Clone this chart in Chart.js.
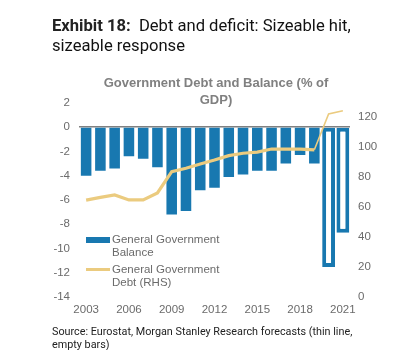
<!DOCTYPE html>
<html>
<head>
<meta charset="utf-8">
<script src="https://cdn.jsdelivr.net/npm/chart.js@4"></script>
<style>
  body { margin:0; background:#fff; width:395px; height:350px; position:relative; overflow:hidden; }
  #chartWrap { position:absolute; left:0; top:0; width:395px; height:350px; }
  .header { position:absolute; left:52px; top:16px; font:16.6px Roboto, sans-serif; line-height:20px; color:#111; white-space:nowrap; }
  .header b { font-weight:700; color:#222; }
  .chart-title { position:absolute; left:96px; width:240px; top:74px; text-align:center; font:bold 13px "Liberation Sans", Arial, sans-serif; line-height:17px; color:#808080; }
  .legend { position:absolute; left:86px; font:11.5px "Liberation Sans", Arial, sans-serif; line-height:13px; color:#6b6b6b; }
  .legend .txt { position:absolute; left:26px; top:0; white-space:nowrap; }
  .legend .sw { position:absolute; left:0; width:24px; }
  .source { position:absolute; left:52px; top:325px; font:10.8px Roboto, sans-serif; line-height:13px; color:#222; }
</style>
</head>
<body>
<div id="chartWrap"><canvas id="debtChart" width="395" height="350"></canvas></div>
<div class="header"><b>Exhibit 18:</b>&nbsp; Debt and deficit: Sizeable hit,<br>sizeable response</div>
<div class="chart-title">Government Debt and Balance (% of<br>GDP)</div>
<div class="legend" style="top:233px;">
  <div class="sw" style="top:4px;height:6px;background:#1878B0;"></div>
  <div class="txt">General Government<br>Balance</div>
</div>
<div class="legend" style="top:263px;">
  <div class="sw" style="top:5px;height:3px;background:#EBCB7F;"></div>
  <div class="txt">General Government<br>Debt (RHS)</div>
</div>
<div class="source">Source: Eurostat, Morgan Stanley Research forecasts (thin line,<br>empty bars)</div>

<script>
// Data
const years = ['2003','2004','2005','2006','2007','2008','2009','2010','2011','2012','2013','2014','2015','2016','2017','2018','2019','2020','2021'];
const balance = [-4.0, -3.6, -3.4, -2.4, -2.6, -3.3, -7.2, -6.9, -5.2, -5.0, -4.1, -3.9, -3.6, -3.6, -3.0, -2.3, -3.0, null, null];
const balanceForecast = [null, null, null, null, null, null, null, null, null, null, null, null, null, null, null, null, null, -11.5, -8.7];
const debt = [64.6, 66.4, 68.0, 64.7, 64.7, 69.3, 83.5, 85.7, 88.6, 91.2, 94.1, 95.7, 96.5, 98.5, 98.5, 98.5, 98.0, 121.8, 124.0];
const firstForecast = 16; // segments from 2019 onwards are forecasts (thin line)

const blue = '#1878B0';
const gold = '#EBCB7F';
const tickColor = '#6b6b6b';
const tickFont = { family: '"Liberation Sans", Arial, sans-serif', size: 11.5 };

const ctx = document.getElementById('debtChart').getContext('2d');
const chart = new Chart(ctx, {
  type: 'bar',
  data: {
    labels: years,
    datasets: [
      {
        label: 'General Government Debt (RHS)',
        type: 'line',
        data: debt,
        yAxisID: 'y1',
        borderColor: gold,
        borderWidth: 3.2,
        pointRadius: 0,
        tension: 0,
        order: 0,
        segment: {
          borderWidth: c => c.p0DataIndex >= firstForecast ? 1.6 : 3.2
        }
      },
      {
        label: 'General Government Balance',
        data: balance,
        yAxisID: 'y',
        backgroundColor: blue,
        grouped: false,
        barPercentage: 0.74,
        categoryPercentage: 1,
        order: 1
      },
      {
        label: 'Forecast',
        data: balanceForecast,
        yAxisID: 'y',
        backgroundColor: '#fff',
        borderColor: blue,
        borderWidth: 4,
        borderSkipped: false,
        grouped: false,
        barPercentage: 0.9,
        categoryPercentage: 1,
        order: 1
      }
    ]
  },
  options: {
    responsive: false,
    animation: false,
    layout: { padding: { top: 102.7, bottom: 30.7, left: 0, right: 0 } },
    plugins: { legend: { display: false }, title: { display: false }, tooltip: { enabled: false } },
    scales: {
      x: {
        offset: true,
        grid: { display: false, drawTicks: false },
        border: { display: false },
        ticks: {
          autoSkip: false, maxRotation: 0, padding: 6, color: tickColor, font: tickFont,
          callback: (v, i) => i % 3 === 0 ? years[i] : ''
        },
        afterFit: s => { s.height = 22; s.paddingLeft = 0; s.paddingRight = 0; }
      },
      y: {
        position: 'left',
        min: -14, max: 2,
        ticks: { stepSize: 2, padding: 9, color: tickColor, font: tickFont },
        grid: { drawTicks: false, lineWidth: 1.5, color: c => c.tick && c.tick.value === 0 ? '#808080' : 'transparent' },
        border: { display: false },
        afterFit: s => { s.width = 79; s.paddingTop = 0; s.paddingBottom = 0; }
      },
      y1: {
        position: 'right',
        min: 0, max: 129.3,
        ticks: { stepSize: 20, padding: 8, color: tickColor, font: tickFont },
        grid: { display: false, drawTicks: false },
        border: { display: false },
        afterBuildTicks: s => { s.ticks = s.ticks.filter(t => t.value % 20 === 0); },
        afterFit: s => { s.width = 45; s.paddingTop = 0; s.paddingBottom = 0; }
      }
    }
  }
});
</script>
</body>
</html>
